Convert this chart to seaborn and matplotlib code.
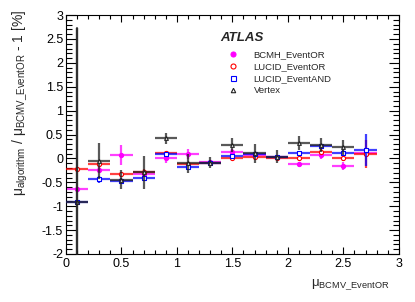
import numpy as np
import pandas as pd
import matplotlib
matplotlib.use("Agg")
import matplotlib.pyplot as plt
from matplotlib.lines import Line2D
from matplotlib.ticker import MultipleLocator
import seaborn as sns

# bin centres of mu_BCMV_EventOR (bins of width 0.2)
mu_bins = [0.1, 0.3, 0.5, 0.7, 0.9, 1.1, 1.3, 1.5, 1.7, 1.9, 2.1, 2.3, 2.5, 2.7]
bin_halfwidth = 0.1

# relative deviation in %
bcmh_eventor = [-0.65, -0.24, 0.07, -0.33, 0.00, 0.09, -0.08, 0.14, 0.07, 0.02, -0.12, 0.07, -0.16, 0.11]
bcmh_err = [0.05, 0.06, 0.21, 0.06, 0.10, 0.10, 0.05, 0.05, 0.05, 0.04, 0.05, 0.08, 0.08, 0.06]

lucid_eventor = [-0.23, -0.12, -0.33, -0.28, 0.12, -0.12, -0.10, 0.00, 0.04, 0.00, 0.00, 0.14, 0.00, 0.09]
lucid_or_err = [0.03, 0.05, 0.05, 0.05, 0.04, 0.05, 0.04, 0.04, 0.04, 0.03, 0.04, 0.05, 0.06, 0.30]

lucid_eventand = [-0.91, -0.44, -0.47, -0.41, 0.09, -0.17, -0.09, 0.05, 0.10, 0.03, 0.11, 0.25, 0.12, 0.18]
lucid_and_err = [0.04, 0.07, 0.06, 0.07, 0.05, 0.05, 0.05, 0.04, 0.04, 0.03, 0.04, 0.05, 0.06, 0.33]

vertex_bins = mu_bins[:13]
vertex = [-0.92, -0.05, -0.45, -0.29, 0.42, -0.10, -0.09, 0.28, 0.11, 0.04, 0.32, 0.28, 0.23]
vertex_err = [3.65, 0.38, 0.20, 0.35, 0.12, 0.20, 0.12, 0.15, 0.20, 0.13, 0.15, 0.15, 0.15]

series = [
    # name, x, y, err, colour, marker, filled, zorder
    ("BCMH_EventOR", mu_bins, bcmh_eventor, bcmh_err, "#ff00ff", "o", True, 2),
    ("LUCID_EventOR", mu_bins, lucid_eventor, lucid_or_err, "#ff0000", "o", False, 3),
    ("LUCID_EventAND", mu_bins, lucid_eventand, lucid_and_err, "#0000ff", "s", False, 4),
    ("Vertex", vertex_bins, vertex, vertex_err, "#222222", "^", False, 5),
]
legend_order = ["BCMH_EventOR", "LUCID_EventOR", "LUCID_EventAND", "Vertex"]
x_range = (0, 3)
y_range = (-2, 3)

sns.set_style("ticks")
plt.rcParams["font.family"] = ["Liberation Sans", "DejaVu Sans"]
plt.rcParams["mathtext.default"] = "regular"
plt.rcParams["axes.unicode_minus"] = False

fig = plt.figure(figsize=(4.15, 3.02), dpi=100)
ax = fig.add_axes([0.159, 0.159, 0.802, 0.791])
ax.set_xlim(*x_range)
ax.set_ylim(*y_range)

handles = {}
tall_bars = []
for name, xs, ys, errs, col, mk, filled, z in series:
    df = pd.DataFrame({"mu": xs, "dev": ys, "err": errs})
    x = df["mu"].to_numpy()
    y = df["dev"].to_numpy()
    lo = np.clip(y - df["err"].to_numpy(), *y_range)
    hi = np.clip(y + df["err"].to_numpy(), *y_range)
    # horizontal bar = bin width, vertical bar = error
    ax.hlines(y, x - bin_halfwidth, x + bin_halfwidth, colors=col,
              linewidth=1.6, alpha=0.75, zorder=z)
    ax.vlines(x, lo, hi, colors=col, linewidth=1.6, alpha=0.75, zorder=z)
    for xi, l, h in zip(x, lo, hi):
        if h - l > 2:
            tall_bars.append((xi, l, h, col))
    size = 7 if mk == "^" else 9
    sns.scatterplot(data=df, x="mu", y="dev", ax=ax, marker=mk, s=size,
                    facecolor=col if filled else "white", edgecolor=col,
                    linewidth=0.8, zorder=z + 0.5, legend=False)
    handles[name] = Line2D([], [], linestyle="none", marker=mk,
                           markersize=3.2 if mk == "^" else 3.6,
                           markerfacecolor=col if filled else "none",
                           markeredgecolor=col, markeredgewidth=0.8)

ax.set_xlim(*x_range)
ax.set_ylim(*y_range)

# very long error bars are also laid on the figure, mapped through the data scale
to_fig = ax.transData + fig.transFigure.inverted()
for xi, l, h, col in tall_bars:
    (fx0, fy0), (fx1, fy1) = to_fig.transform([[xi, l], [xi, h]])
    fig.add_artist(Line2D([fx0, fx1], [fy0, fy1], transform=fig.transFigure,
                          color=col, linewidth=1.6, alpha=0.75, zorder=10))

ax.xaxis.set_major_locator(MultipleLocator(0.5))
ax.xaxis.set_minor_locator(MultipleLocator(0.1))
ax.yaxis.set_major_locator(MultipleLocator(0.5))
ax.yaxis.set_minor_locator(MultipleLocator(0.1))
ax.xaxis.set_major_formatter(plt.FuncFormatter(lambda v, p: f"{v:g}"))
ax.yaxis.set_major_formatter(plt.FuncFormatter(lambda v, p: f"{v:g}"))
ax.tick_params(which="both", direction="in", top=True, right=True,
               labelsize=9, width=0.8, colors="black")
ax.tick_params(axis="y", which="major", length=7, pad=2)
ax.tick_params(axis="y", which="minor", length=4)
ax.tick_params(axis="x", which="major", length=5, pad=3)
ax.tick_params(axis="x", which="minor", length=3)
for sp in ax.spines.values():
    sp.set_linewidth(0.8)
    sp.set_color("black")

ax.set_xlabel("")
ax.set_ylabel("")
fig.text(0.94, 0.058, r"$\mu_{BCMV\_EventOR}$", ha="right", va="center", fontsize=9.5)
fig.text(0.048, 0.968, r"$\mu_{algorithm}$ / $\mu_{BCMV\_EventOR}$ - 1 [%]",
         rotation=90, ha="center", va="top", fontsize=10)

ax.text(0.465, 0.905, "ATLAS", transform=ax.transAxes, fontsize=9.5,
        fontweight="bold", fontstyle="italic", va="center", ha="left")
ax.legend([handles[n] for n in legend_order], legend_order, loc="upper left",
          bbox_to_anchor=(0.473, 0.868), frameon=False, fontsize=6.8,
          handlelength=1.2, handletextpad=1.6, labelspacing=0.3,
          borderaxespad=0)

fig.savefig("out.png", dpi=100)
